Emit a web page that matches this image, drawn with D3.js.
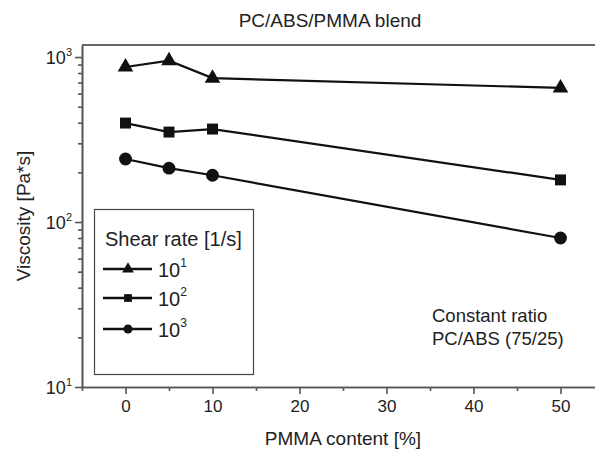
<!DOCTYPE html>
<html><head><meta charset="utf-8">
<script src="https://cdn.jsdelivr.net/npm/d3@7"></script>
<style>body{margin:0;background:#fff}text{font-family:"Liberation Sans",Arial,sans-serif;fill:#222}</style>
</head><body><svg id="c" width="595" height="450" font-family="Liberation Sans, Arial, sans-serif"></svg>
<script>
const pmma = [0, 5, 10, 50];
const rate1 = [870, 950, 745, 650];
const rate2 = [398, 351, 366, 180];
const rate3 = [241, 212, 192, 80];
const seriesNames = ["1", "2", "3"];
const xTicks = [0, 10, 20, 30, 40, 50];
const xMinor = [-5, 5, 15, 25, 35, 45, 55];
const yTicks = [10, 100, 1000];
const yExp = ["1", "2", "3"];
const yMinor = [20,30,40,50,60,70,80,90,200,300,400,500,600,700,800,900];

const svg = d3.select("#c");
const x = d3.scaleLinear([-5, 55], [82, 604]);
const y = d3.scaleLog([10, 1183], [387, 45]);

// frame top
svg.append("line").attr("x1", 82).attr("x2", 604).attr("y1", y(1183)).attr("y2", y(1183))
  .attr("stroke", "#666").attr("stroke-width", 2);

// x axis
const gx = svg.append("g").attr("transform", `translate(0,${y(10)})`);
gx.call(d3.axisBottom(x).tickValues(xTicks).tickSize(7).tickPadding(6).tickSizeOuter(0));
gx.append("g").call(d3.axisBottom(x).tickValues(xMinor).tickSize(4).tickFormat("").tickSizeOuter(0));
gx.selectAll("text").attr("font-size", 17).attr("fill", "#222");
gx.selectAll("path,line").attr("stroke", "#555").attr("stroke-width", 1.6);

// y axis
const gy = svg.append("g").attr("transform", `translate(${x(-5)},0)`);
gy.call(d3.axisLeft(y).tickValues(yTicks).tickSize(7).tickPadding(6).tickSizeOuter(0).tickFormat(() => ""));
gy.append("g").call(d3.axisLeft(y).tickValues(yMinor).tickSize(4).tickFormat("").tickSizeOuter(0));
gy.selectAll("path,line").attr("stroke", "#555").attr("stroke-width", 1.6);
yTicks.forEach((v, i) => {
  const t = svg.append("text").attr("x", 72).attr("y", y(v) + 7).attr("text-anchor", "end").attr("font-size", 18);
  t.append("tspan").text("10");
  t.append("tspan").attr("dy", -8).attr("font-size", 11).text(yExp[i]);
});

// labels
svg.append("text").attr("x", 330).attr("y", 27).attr("text-anchor", "middle").attr("font-size", 19).text("PC/ABS/PMMA blend");
svg.append("text").attr("x", 343).attr("y", 445).attr("text-anchor", "middle").attr("font-size", 19).text("PMMA content [%]");
svg.append("text").attr("transform", `translate(30,216) rotate(-90)`).attr("text-anchor", "middle").attr("font-size", 19).text("Viscosity [Pa*s]");
svg.append("text").attr("x", 432).attr("y", 322).attr("font-size", 18.5).text("Constant ratio");
svg.append("text").attr("x", 432).attr("y", 345).attr("font-size", 18.5).text("PC/ABS (75/25)");

const symbols = [d3.symbolTriangle, d3.symbolSquare, d3.symbolCircle];
const sizes = [105, 120, 130];
const data = [rate1, rate2, rate3];
const line = d3.line().x((d, i) => x(pmma[i])).y(d => y(d));
data.forEach((s, k) => {
  svg.append("path").attr("d", line(s)).attr("fill", "none").attr("stroke", "#111").attr("stroke-width", 2.2);
  svg.selectAll(null).data(s).enter().append("path")
    .attr("transform", (d, i) => `translate(${x(pmma[i])},${y(d)})`)
    .attr("d", d3.symbol(symbols[k], sizes[k])).attr("fill", "#111");
});

// legend
svg.append("rect").attr("x", 94.5).attr("y", 209.5).attr("width", 159).attr("height", 165)
  .attr("fill", "#fff").attr("stroke", "#444").attr("stroke-width", 1.2);
svg.append("text").attr("x", 105).attr("y", 246).attr("font-size", 20).text("Shear rate [1/s]");
const ly = [269, 298, 329];
const legSizes = [60, 60, 65];
seriesNames.forEach((n, k) => {
  svg.append("line").attr("x1", 103).attr("x2", 152).attr("y1", ly[k]).attr("y2", ly[k]).attr("stroke", "#111").attr("stroke-width", 2.4);
  svg.append("path").attr("transform", `translate(128,${ly[k]})`).attr("d", d3.symbol(symbols[k], legSizes[k])).attr("fill", "#111");
  const t = svg.append("text").attr("x", 158).attr("y", ly[k] + 8).attr("font-size", 20);
  t.append("tspan").text("10");
  t.append("tspan").attr("dy", -10).attr("font-size", 12).text(n);
});
</script></body></html>
